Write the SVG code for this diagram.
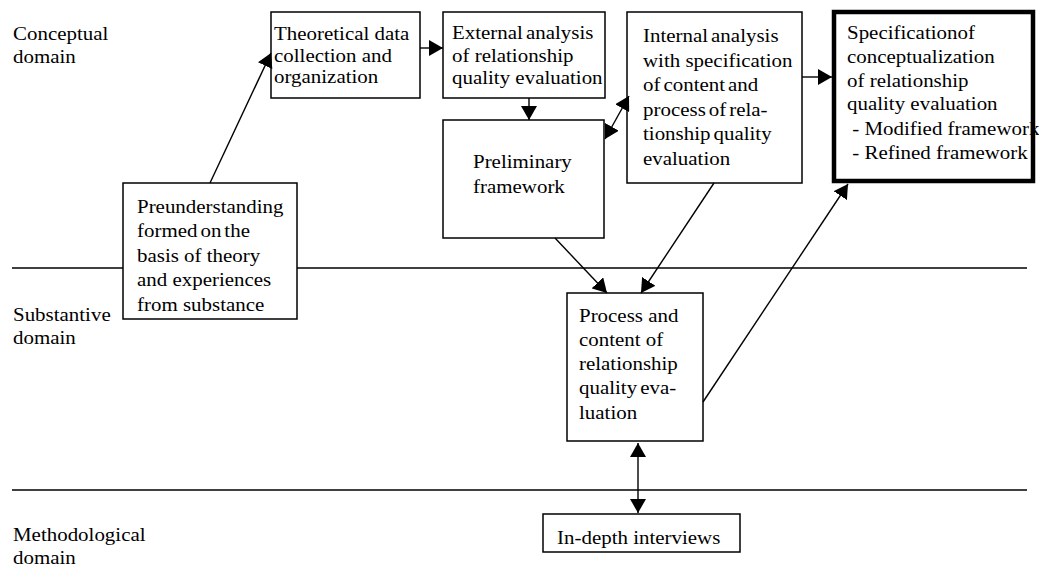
<svg xmlns="http://www.w3.org/2000/svg" width="1039" height="570" viewBox="0 0 1039 570" font-family="'Liberation Serif', 'DejaVu Serif', serif">
  <defs>
    <marker id="ah" viewBox="0 0 14 16" refX="14" refY="8" markerWidth="14" markerHeight="16" markerUnits="userSpaceOnUse" orient="auto-start-reverse">
      <path d="M0,0 L14,8 L0,16 z" fill="#000"/>
    </marker>
  </defs>
  <style>
    text { font-family: 'Liberation Serif', 'DejaVu Serif', serif; font-size: 18.7px; fill: #000; }
    .box { fill: #fff; stroke: #000; stroke-width: 1.5; }
    .bold { fill: #fff; stroke: #000; stroke-width: 4.5; }
    .divider { stroke: #000; stroke-width: 1.5; }
    .conn line { stroke: #000; stroke-width: 1.4; marker-end: url(#ah); }
    .conn line.both { marker-start: url(#ah); }
    .tight { word-spacing: -2px; }
  </style>

  <!-- domain dividers -->
  <g id="dividers">
    <line class="divider" x1="12" y1="268" x2="1027" y2="268"/>
    <line class="divider" x1="12" y1="490" x2="1027" y2="490"/>
  </g>

  <!-- domain labels -->
  <g id="domain-labels">
    <text transform="translate(13,40) scale(1.12,1)"><tspan x="0">Conceptual</tspan><tspan x="0" dy="23">domain</tspan></text>
    <text transform="translate(13,321) scale(1.12,1)"><tspan x="0">Substantive</tspan><tspan x="0" dy="23">domain</tspan></text>
    <text transform="translate(13,541) scale(1.12,1)"><tspan x="0">Methodological</tspan><tspan x="0" dy="23">domain</tspan></text>
  </g>

  <g id="node-preunderstanding">
    <rect class="box" x="123" y="183" width="174" height="136"/>
    <text transform="translate(137,213) scale(1.12,1)"><tspan x="0">Preunderstanding</tspan><tspan x="0" dy="24.5" class="tight">formed on the</tspan><tspan x="0" dy="24.5">basis of theory</tspan><tspan x="0" dy="24.5">and experiences</tspan><tspan x="0" dy="24.5">from substance</tspan></text>
  </g>

  <g id="node-theoretical">
    <rect class="box" x="271" y="12" width="149" height="86"/>
    <text transform="translate(274,40) scale(1.12,1)"><tspan x="0">Theoretical data</tspan><tspan x="0" dy="22">collection and</tspan><tspan x="0" dy="21.5">organization</tspan></text>
  </g>

  <g id="node-external">
    <rect class="box" x="443" y="12" width="162" height="86"/>
    <text transform="translate(452,39) scale(1.12,1)"><tspan x="0" class="tight">External analysis</tspan><tspan x="0" dy="23">of relationship</tspan><tspan x="0" dy="22">quality evaluation</tspan></text>
  </g>

  <g id="node-preliminary">
    <rect class="box" x="443" y="120" width="161" height="118"/>
    <text transform="translate(473,168) scale(1.12,1)"><tspan x="0">Preliminary</tspan><tspan x="0" dy="25">framework</tspan></text>
  </g>

  <g id="node-internal">
    <rect class="box" x="627" y="12" width="175" height="171"/>
    <text transform="translate(643,42) scale(1.12,1)"><tspan x="0" class="tight">Internal analysis</tspan><tspan x="0" dy="24.6">with specification</tspan><tspan x="0" dy="24.6" class="tight">of content and</tspan><tspan x="0" dy="24.6" class="tight">process of rela-</tspan><tspan x="0" dy="24.6" class="tight">tionship quality</tspan><tspan x="0" dy="24.6">evaluation</tspan></text>
  </g>

  <g id="node-specification">
    <rect class="bold" x="834" y="12" width="199" height="169"/>
    <text transform="translate(847,39) scale(1.12,1)"><tspan x="0">Specificationof</tspan><tspan x="0" dy="24">conceptualization</tspan><tspan x="0" dy="24">of relationship</tspan><tspan x="0" dy="23.5">quality evaluation</tspan><tspan x="0" dy="24.5"> - Modified framework</tspan><tspan x="0" dy="24"> - Refined framework</tspan></text>
  </g>

  <g id="node-process">
    <rect class="box" x="567" y="293" width="136" height="148"/>
    <text transform="translate(579,322) scale(1.12,1)"><tspan x="0">Process and</tspan><tspan x="0" dy="24">content of</tspan><tspan x="0" dy="24.5">relationship</tspan><tspan x="0" dy="24" class="tight">quality eva-</tspan><tspan x="0" dy="24.5">luation</tspan></text>
  </g>

  <g id="node-interviews">
    <rect class="box" x="543" y="514" width="197" height="38"/>
    <text transform="translate(557,544) scale(1.12,1)">In-depth interviews</text>
  </g>

  <!-- connectors -->
  <g id="connectors" class="conn">
    <line x1="210" y1="183" x2="271" y2="53"/>
    <line x1="420" y1="48" x2="443" y2="48"/>
    <line x1="529" y1="98" x2="529" y2="120"/>
    <line class="both" x1="605" y1="139" x2="629" y2="96"/>
    <line x1="802" y1="77" x2="832" y2="77"/>
    <line x1="555" y1="238" x2="607" y2="293"/>
    <line x1="714" y1="183" x2="641" y2="293"/>
    <line x1="703" y1="402" x2="848" y2="184"/>
    <line class="both" x1="638" y1="443" x2="638" y2="513"/>
  </g>
</svg>
